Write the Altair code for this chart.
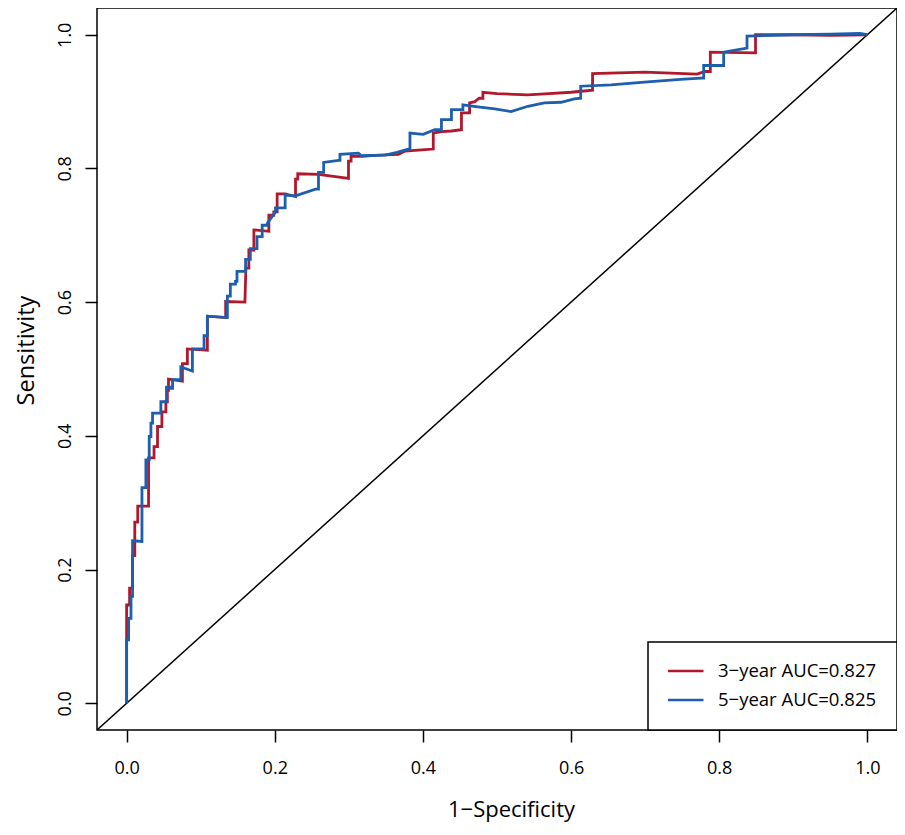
import altair as alt
import pandas as pd

# ---- data ----
fpr_3y = [0.0, 0.0, 0.004, 0.004, 0.008, 0.008, 0.011, 0.011, 0.015, 0.015,
          0.0296, 0.0296, 0.037, 0.037, 0.0417, 0.0417, 0.0476, 0.0476, 0.053, 0.053,
          0.055, 0.055, 0.0565, 0.0565, 0.0753, 0.0753, 0.082, 0.082, 0.109, 0.109,
          0.1337, 0.1337, 0.1597, 0.161, 0.165, 0.165, 0.1718, 0.1718, 0.192, 0.192,
          0.1987, 0.1987, 0.2032, 0.2032, 0.214, 0.228, 0.228, 0.231, 0.231, 0.259,
          0.2995, 0.2995, 0.303, 0.303, 0.317, 0.340, 0.367, 0.376, 0.403, 0.414,
          0.414, 0.425, 0.4385, 0.452, 0.452, 0.463, 0.463, 0.470, 0.476, 0.481,
          0.481, 0.500, 0.5416, 0.570, 0.600, 0.629, 0.629, 0.700, 0.7255, 0.770,
          0.781, 0.788, 0.788, 0.849, 0.849, 0.900, 0.950, 1.0]
tpr_3y = [0.0, 0.147, 0.147, 0.172, 0.172, 0.221, 0.221, 0.271, 0.271, 0.295,
          0.295, 0.367, 0.367, 0.384, 0.384, 0.414, 0.414, 0.436, 0.436, 0.451,
          0.451, 0.468, 0.468, 0.485, 0.482, 0.508, 0.508, 0.530, 0.528, 0.579,
          0.577, 0.601, 0.600, 0.651, 0.651, 0.678, 0.678, 0.708, 0.706, 0.730,
          0.730, 0.735, 0.735, 0.762, 0.762, 0.758, 0.784, 0.784, 0.792, 0.791,
          0.785, 0.811, 0.811, 0.818, 0.818, 0.820, 0.821, 0.826, 0.828, 0.829,
          0.853, 0.855, 0.856, 0.858, 0.883, 0.883, 0.898, 0.900, 0.905, 0.905,
          0.914, 0.912, 0.910, 0.912, 0.914, 0.917, 0.942, 0.944, 0.943, 0.941,
          0.945, 0.945, 0.974, 0.973, 1.000, 1.000, 0.999, 1.0]

fpr_5y = [0.0, 0.0, 0.0027, 0.0027, 0.0059, 0.0059, 0.008, 0.008, 0.0207, 0.0207,
          0.026, 0.026, 0.0305, 0.0305, 0.0328, 0.0328, 0.035, 0.035, 0.0462, 0.0462,
          0.0538, 0.0538, 0.0597, 0.0597, 0.062, 0.062, 0.0732, 0.0732, 0.0888, 0.0888,
          0.1045, 0.1045, 0.109, 0.109, 0.136, 0.136, 0.140, 0.140, 0.147, 0.147,
          0.149, 0.149, 0.1606, 0.1606, 0.167, 0.167, 0.176, 0.176, 0.183, 0.183,
          0.190, 0.190, 0.201, 0.201, 0.214, 0.214, 0.228, 0.255, 0.259, 0.259,
          0.266, 0.266, 0.286, 0.288, 0.288, 0.313, 0.317, 0.349, 0.365, 0.380,
          0.3825, 0.3825, 0.4004, 0.416, 0.425, 0.425, 0.4385, 0.4385, 0.454, 0.454,
          0.474, 0.497, 0.519, 0.5416, 0.564, 0.5865, 0.6044, 0.613, 0.613, 0.654,
          0.699, 0.743, 0.775, 0.779, 0.779, 0.806, 0.806, 0.8375, 0.8375, 0.900,
          0.950, 0.990, 1.0]
tpr_5y = [0.0, 0.095, 0.095, 0.127, 0.127, 0.160, 0.160, 0.243, 0.242, 0.3225,
          0.3225, 0.364, 0.364, 0.399, 0.399, 0.419, 0.419, 0.434, 0.434, 0.451,
          0.451, 0.473, 0.473, 0.471, 0.471, 0.484, 0.484, 0.503, 0.497, 0.530,
          0.530, 0.550, 0.550, 0.579, 0.577, 0.609, 0.609, 0.627, 0.627, 0.631,
          0.631, 0.646, 0.646, 0.664, 0.664, 0.680, 0.680, 0.698, 0.698, 0.715,
          0.715, 0.718, 0.735, 0.741, 0.741, 0.760, 0.759, 0.769, 0.769, 0.794,
          0.794, 0.809, 0.812, 0.812, 0.821, 0.823, 0.819, 0.820, 0.824, 0.829,
          0.829, 0.853, 0.851, 0.858, 0.858, 0.873, 0.873, 0.888, 0.888, 0.895,
          0.892, 0.889, 0.885, 0.893, 0.898, 0.899, 0.904, 0.905, 0.923, 0.925,
          0.929, 0.933, 0.935, 0.935, 0.954, 0.954, 0.974, 0.980, 0.998, 1.000,
          1.001, 1.002, 1.0]

curve_labels = ["3\u2212year AUC=0.827", "5\u2212year AUC=0.825"]
curve_colors = ["#B2182B", "#1D5FAE"]
tick_values = [0.0, 0.2, 0.4, 0.6, 0.8, 1.0]
axis_range = [-0.04, 1.04]
diag_values = [-0.04, 1.04]

rows = []
for i, (fx, ty) in enumerate(zip(fpr_3y, tpr_3y)):
    rows.append({"fpr": fx, "tpr": ty, "curve": curve_labels[0], "idx": i})
for i, (fx, ty) in enumerate(zip(fpr_5y, tpr_5y)):
    rows.append({"fpr": fx, "tpr": ty, "curve": curve_labels[1], "idx": i})
df = pd.DataFrame(rows)
diag_df = pd.DataFrame({"d": diag_values})

FONT = "Open Sans"
xscale = alt.Scale(domain=axis_range, nice=False, zero=False)
yscale = alt.Scale(domain=axis_range, nice=False, zero=False)

xaxis = alt.Axis(
    title="1\u2212Specificity", values=tick_values, format=".1f", grid=False,
    domain=False, ticks=True, tickSize=12, tickWidth=1.5, tickColor="black",
    labelFont=FONT, labelFontSize=18, labelColor="black",
    labelBaseline="alphabetic", labelPadding=31,
    titleFont=FONT, titleFontSize=22, titleFontWeight="normal", titleColor="black",
    titleX=414, titleY=86, titleBaseline="alphabetic", titleAlign="center",
)
yaxis = alt.Axis(
    title="Sensitivity", values=tick_values, format=".1f", grid=False,
    domain=False, ticks=True, tickSize=12, tickWidth=1.5, tickColor="black",
    labelFont=FONT, labelFontSize=18, labelColor="black", labelAngle=270,
    labelAlign="center", labelBaseline="alphabetic", labelPadding=15,
    titleFont=FONT, titleFontSize=23.5, titleFontWeight="normal", titleColor="black",
    titleAngle=270, titleX=-64, titleY=342, titleBaseline="alphabetic", titleAlign="center",
)

diagonal = alt.Chart(diag_df).mark_line(color="black", strokeWidth=1.5, clip=True).encode(
    x=alt.X("d:Q", scale=xscale, axis=xaxis),
    y=alt.Y("d:Q", scale=yscale, axis=yaxis),
)

curves = alt.Chart(df).mark_line(strokeWidth=2.8, clip=True).encode(
    x=alt.X("fpr:Q", scale=xscale, axis=xaxis),
    y=alt.Y("tpr:Q", scale=yscale, axis=yaxis),
    color=alt.Color(
        "curve:N",
        scale=alt.Scale(domain=curve_labels, range=curve_colors),
        legend=alt.Legend(
            title=None, orient="bottom-right", offset=0,
            strokeColor="black", fillColor="white", padding=20,
            symbolType="stroke", symbolSize=1369, symbolStrokeWidth=2.6,
            symbolOffset=-3, clipHeight=18,
            labelFont=FONT, labelFontSize=18.5, labelColor="black",
            labelOffset=13, rowPadding=10, labelLimit=400,
        ),
    ),
    order=alt.Order("idx:Q"),
)

chart = alt.layer(diagonal, curves).properties(
    width=800, height=722,
    autosize=alt.AutoSizeParams(type="none"),
    padding={"left": 89, "top": 0, "right": 0, "bottom": 92},
    background="white",
).configure_view(
    stroke="black", strokeWidth=1.5
).configure_legend(
    strokeWidth=1.5, cornerRadius=0
)

chart.save("out.html", embed_options={"renderer": "svg", "actions": False})
